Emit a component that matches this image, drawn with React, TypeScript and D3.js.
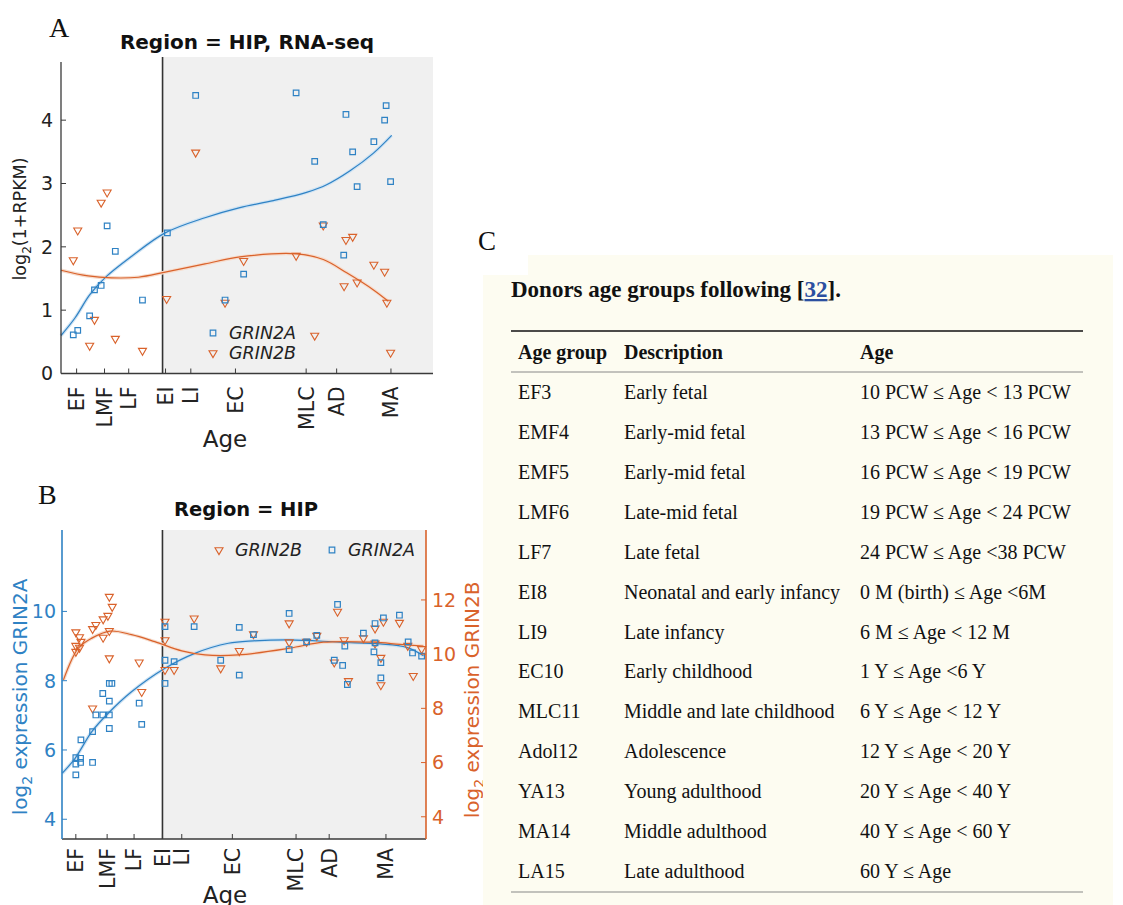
import React from "react";
import * as d3 from "d3";

// ---------- data ----------
const ageLabels = ["EF", "LMF", "LF", "EI", "LI", "EC", "MLC", "AD", "MA"];
const tickPosA = [4.2, 11.7, 18.2, 28.1, 34.9, 46.9, 65.9, 74.1, 88.7];
const tickPosB = [3.8, 12.4, 19.8, 27.6, 32.9, 46.8, 64.3, 73.4, 89.0];
const birthA = 27.3;
const birthB = 27.6;
const yTicksA = [0, 1, 2, 3, 4];
const yTicksBLeft = [4, 6, 8, 10];
const yTicksBRight = [4, 6, 8, 10, 12];

// Panel A: RNA-seq, log2(1+RPKM)  [age position, value]
const rnaGrin2A: [number, number][] = [
  [36.2, 4.39], [12.4, 2.33], [14.6, 1.93], [28.6, 2.22], [9.0, 1.32], [10.8, 1.39],
  [21.9, 1.16], [7.7, 0.91], [3.3, 0.61], [4.5, 0.68], [49.1, 1.57], [44.1, 1.16],
  [63.2, 4.43], [76.6, 4.09], [87.4, 4.23], [87.0, 4.0], [84.1, 3.66], [78.4, 3.5],
  [68.2, 3.35], [79.6, 2.95], [88.6, 3.03], [70.5, 2.35], [76.0, 1.87],
];
const rnaGrin2B: [number, number][] = [
  [36.2, 3.49], [12.4, 2.86], [10.8, 2.7], [4.5, 2.26], [3.3, 1.79], [49.1, 1.78],
  [28.4, 1.18], [44.1, 1.12], [9.0, 0.85], [7.7, 0.44], [14.6, 0.55], [21.9, 0.36],
  [70.5, 2.34], [76.6, 2.11], [78.4, 2.16], [63.2, 1.86], [84.1, 1.72], [87.0, 1.61],
  [76.1, 1.38], [79.6, 1.44], [87.6, 1.12], [68.2, 0.6], [88.6, 0.33],
];
const rnaFit2A: [number, number][] = [
  [0, 0.6], [3.8, 0.88], [7.7, 1.24], [11.8, 1.51], [19.0, 1.85], [28.0, 2.22],
  [38.7, 2.46], [48.1, 2.62], [57.1, 2.73], [66.0, 2.86], [71.4, 2.98], [77.7, 3.2],
  [84.0, 3.48], [88.9, 3.76],
];
const rnaFit2B: [number, number][] = [
  [0, 1.63], [7.3, 1.54], [13.6, 1.51], [20.8, 1.52], [28.0, 1.6], [38.7, 1.73],
  [48.1, 1.84], [63.4, 1.89], [70.5, 1.8], [76.8, 1.59], [84.0, 1.32], [88.0, 1.14],
];

// Panel B: microarray, log2 expression  [age position, value]
const arrGrin2A: [number, number][] = [
  [3.8, 5.28], [3.8, 5.59], [3.8, 5.78], [5.1, 5.76], [5.1, 5.64], [5.2, 6.29],
  [8.4, 5.64], [8.4, 6.53], [9.3, 7.01], [11.2, 7.01], [11.2, 7.63], [13.0, 7.01],
  [13.0, 7.41], [13.0, 7.92], [13.0, 6.62], [13.7, 7.92], [21.2, 7.35], [21.9, 6.74],
  [28.3, 9.56], [28.3, 8.59], [28.3, 7.92], [30.8, 8.55], [36.3, 9.56], [43.6, 8.59],
  [48.7, 9.54], [48.7, 8.16], [52.6, 9.33], [62.4, 9.94], [62.4, 8.9], [67.2, 9.12],
  [70.0, 9.31], [75.7, 10.2], [74.8, 8.59], [77.1, 8.44], [77.7, 9.0], [78.4, 7.89],
  [82.8, 9.37], [86.0, 9.65], [86.0, 9.09], [88.3, 9.81], [85.7, 8.83], [87.6, 8.52],
  [87.6, 8.08], [92.7, 9.89], [95.1, 9.12], [96.3, 8.8], [98.8, 8.71],
];
const arrGrin2B: [number, number][] = [
  [3.8, 10.81], [3.8, 10.31], [3.8, 10.09], [4.8, 10.63], [4.8, 10.24], [5.2, 10.46],
  [8.4, 10.93], [8.4, 8.0], [9.3, 11.08], [11.3, 11.29], [11.3, 10.61], [12.6, 11.42],
  [13.0, 12.12], [13.0, 10.86], [13.0, 9.85], [13.8, 11.75], [21.2, 9.7], [21.9, 8.61],
  [28.3, 11.2], [28.3, 10.52], [28.3, 9.42], [30.8, 9.42], [36.3, 11.32], [43.6, 9.48],
  [48.7, 10.12], [52.6, 10.74], [62.4, 11.14], [62.4, 10.44], [67.2, 10.46], [70.0, 10.68],
  [75.7, 11.57], [74.8, 9.7], [77.5, 10.52], [78.7, 9.01], [82.8, 10.59], [86.0, 10.95],
  [86.0, 10.4], [88.3, 11.2], [87.6, 9.87], [87.6, 8.86], [92.7, 11.16], [95.0, 10.31],
  [96.5, 9.2], [98.8, 10.19],
];
const arrFit2A: [number, number][] = [
  [0.1, 5.33], [3.6, 5.76], [8.2, 6.53], [12.7, 7.06], [19.1, 7.68], [28.3, 8.36],
  [36.5, 8.79], [45.7, 9.08], [52.6, 9.15], [62.6, 9.18], [76.4, 9.11], [87.4, 9.06],
  [94.7, 8.96], [99.3, 8.72],
];
const arrFit2B: [number, number][] = [
  [0.4, 9.05], [4.5, 10.22], [8.2, 10.59], [13.2, 10.85], [19.1, 10.72], [25.5, 10.46],
  [32.9, 10.12], [39.3, 9.97], [48.4, 9.97], [62.6, 10.22], [71.8, 10.44], [85.5, 10.44],
  [92.9, 10.36], [99.3, 10.3],
];

// Panel C: table
const tableTitle = "Donors age groups following [";
const tableRef = "32";
const tableHeaders = ["Age group", "Description", "Age"];
const ageGroups = ["EF3", "EMF4", "EMF5", "LMF6", "LF7", "EI8", "LI9", "EC10", "MLC11", "Adol12", "YA13", "MA14", "LA15"];
const descriptions = [
  "Early fetal", "Early-mid fetal", "Early-mid fetal", "Late-mid fetal", "Late fetal",
  "Neonatal and early infancy", "Late infancy", "Early childhood", "Middle and late childhood",
  "Adolescence", "Young adulthood", "Middle adulthood", "Late adulthood",
];
const ageRanges = [
  "10 PCW ≤ Age < 13 PCW", "13 PCW ≤ Age < 16 PCW", "16 PCW ≤ Age < 19 PCW",
  "19 PCW ≤ Age < 24 PCW", "24 PCW ≤ Age <38 PCW", "0 M (birth) ≤ Age <6M",
  "6 M ≤ Age < 12 M", "1 Y ≤ Age <6 Y", "6 Y ≤ Age < 12 Y", "12 Y ≤ Age < 20 Y",
  "20 Y ≤ Age < 40 Y", "40 Y ≤ Age < 60 Y", "60 Y ≤ Age",
];

// ---------- style ----------
const BLUE = "#2f82c4";
const ORANGE = "#d9622b";
const AXIS = "#3a3a3a";
const SHADE = "#f0f0f0";
const SANS = "DejaVu Sans, sans-serif";
const SERIF = "Liberation Serif, Times New Roman, serif";

const squarePath = d3.symbol(d3.symbolSquare, 31)()!;
const triPath = d3.symbol(d3.symbolTriangle, 28)()!;

function Square({ x, y, color = BLUE }: { x: number; y: number; color?: string }) {
  return (
    <path d={squarePath} transform={`translate(${x},${y})`} fill="none" stroke={color} strokeWidth={1.2} />
  );
}
function Tri({ x, y, color = ORANGE }: { x: number; y: number; color?: string }) {
  return (
    <path d={triPath} transform={`translate(${x},${y}) rotate(180)`} fill="none" stroke={color} strokeWidth={1.1} />
  );
}

function XAxisLabels({ x, y0, ticks, gap, size }: { x: d3.ScaleLinear<number, number>; y0: number; ticks: number[]; gap: number; size: number }) {
  return (
    <g>
      {ticks.map((t, i) => (
        <g key={i}>
          <line x1={x(t)} x2={x(t)} y1={y0} y2={y0 - 5} stroke={AXIS} strokeWidth={1} />
          <text
            transform={`translate(${x(t)},${y0 + gap}) rotate(-90)`}
            textAnchor="end"
            dy="0.36em"
            fontFamily={SANS}
            fontSize={size}
            fill="#222"
          >
            {ageLabels[i]}
          </text>
        </g>
      ))}
    </g>
  );
}

function PanelA() {
  const x = d3.scaleLinear([0, 100], [61, 433]);
  const y = d3.scaleLinear([0, 4.95], [373.5, 60]);
  const line = d3
    .line<[number, number]>()
    .x((d) => x(d[0]))
    .y((d) => y(d[1]))
    .curve(d3.curveCatmullRom);
  const top = 57;
  return (
    <g>
      <text x={49} y={37} fontFamily={SERIF} fontSize={28} fill="#111">A</text>
      <text x={247} y={49} textAnchor="middle" fontFamily={SANS} fontWeight="bold" fontSize={20} fill="#111">
        Region = HIP, RNA-seq
      </text>
      <rect x={x(birthA)} y={top} width={x(100) - x(birthA)} height={y(0) - top} fill={SHADE} />
      <line x1={x(birthA)} x2={x(birthA)} y1={top} y2={y(0)} stroke="#333" strokeWidth={1.6} />
      {/* fitted curves */}
      <path d={line(rnaFit2A)!} fill="none" stroke="#cfe3f3" strokeWidth={3.5} />
      <path d={line(rnaFit2B)!} fill="none" stroke="#f6dccd" strokeWidth={3.5} />
      <path d={line(rnaFit2A)!} fill="none" stroke={BLUE} strokeWidth={1.2} />
      <path d={line(rnaFit2B)!} fill="none" stroke={ORANGE} strokeWidth={1.2} />
      {rnaGrin2B.map((d, i) => <Tri key={"b" + i} x={x(d[0])} y={y(d[1])} />)}
      {rnaGrin2A.map((d, i) => <Square key={"a" + i} x={x(d[0])} y={y(d[1])} />)}
      {/* axes */}
      <line x1={x(0)} x2={x(0)} y1={62} y2={y(0)} stroke={AXIS} strokeWidth={1.3} />
      <line x1={x(0)} x2={x(100)} y1={y(0)} y2={y(0)} stroke={AXIS} strokeWidth={1.3} />
      {yTicksA.map((t) => (
        <g key={t}>
          <line x1={x(0)} x2={x(0) + 5} y1={y(t)} y2={y(t)} stroke={AXIS} />
          <text x={x(0) - 8} y={y(t)} dy="0.36em" textAnchor="end" fontFamily={SANS} fontSize={19} fill="#222">{t}</text>
        </g>
      ))}
      <XAxisLabels x={x} y0={y(0)} ticks={tickPosA} gap={13} size={20.5} />
      <text x={225} y={447} textAnchor="middle" fontFamily={SANS} fontSize={23} fill="#222">Age</text>
      <text transform="translate(26,219) rotate(-90)" textAnchor="middle" fontFamily={SANS} fontSize={17.5} fill="#222">
        log<tspan dy={5} fontSize={12}>2</tspan><tspan dy={-5}>(1+RPKM)</tspan>
      </text>
      {/* legend */}
      <Square x={213} y={333} />
      <text x={229} y={333} dy="0.36em" fontFamily={SANS} fontStyle="italic" fontSize={17.5} fill="#222">GRIN2A</text>
      <Tri x={213} y={353} />
      <text x={229} y={353} dy="0.36em" fontFamily={SANS} fontStyle="italic" fontSize={17.5} fill="#222">GRIN2B</text>
    </g>
  );
}

function PanelB() {
  const x = d3.scaleLinear([0, 100], [62, 426]);
  const yL = d3.scaleLinear([3.43, 12.35], [839, 530]);
  const yR = d3.scaleLinear([3.18, 14.58], [839, 530]);
  const lineL = d3.line<[number, number]>().x((d) => x(d[0])).y((d) => yL(d[1])).curve(d3.curveCatmullRom);
  const lineR = d3.line<[number, number]>().x((d) => x(d[0])).y((d) => yR(d[1])).curve(d3.curveCatmullRom);
  const top = 530;
  const bottom = 839;
  return (
    <g>
      <text x={38} y={504} fontFamily={SERIF} fontSize={28} fill="#111">B</text>
      <text x={246} y={516} textAnchor="middle" fontFamily={SANS} fontWeight="bold" fontSize={19.5} fill="#111">
        Region = HIP
      </text>
      <rect x={x(birthB)} y={top} width={x(100) - x(birthB)} height={bottom - top} fill={SHADE} />
      <line x1={x(birthB)} x2={x(birthB)} y1={top} y2={bottom} stroke="#333" strokeWidth={1.6} />
      <path d={lineL(arrFit2A)!} fill="none" stroke="#cfe3f3" strokeWidth={3.5} />
      <path d={lineR(arrFit2B)!} fill="none" stroke="#f6dccd" strokeWidth={3.5} />
      <path d={lineL(arrFit2A)!} fill="none" stroke={BLUE} strokeWidth={1.2} />
      <path d={lineR(arrFit2B)!} fill="none" stroke={ORANGE} strokeWidth={1.2} />
      {arrGrin2B.map((d, i) => <Tri key={"b" + i} x={x(d[0])} y={yR(d[1])} />)}
      {arrGrin2A.map((d, i) => <Square key={"a" + i} x={x(d[0])} y={yL(d[1])} />)}
      {/* axes */}
      <line x1={x(0)} x2={x(100)} y1={bottom} y2={bottom} stroke={AXIS} strokeWidth={1.3} />
      <line x1={x(0)} x2={x(0)} y1={top} y2={bottom} stroke={BLUE} strokeWidth={1.6} />
      <line x1={x(100)} x2={x(100)} y1={top} y2={bottom} stroke={ORANGE} strokeWidth={1.6} />
      {yTicksBLeft.map((t) => (
        <g key={"l" + t}>
          <line x1={x(0)} x2={x(0) + 5} y1={yL(t)} y2={yL(t)} stroke={BLUE} />
          <text x={x(0) - 6} y={yL(t)} dy="0.36em" textAnchor="end" fontFamily={SANS} fontSize={19} fill={BLUE}>{t}</text>
        </g>
      ))}
      {yTicksBRight.map((t) => (
        <g key={"r" + t}>
          <line x1={x(100)} x2={x(100) - 5} y1={yR(t)} y2={yR(t)} stroke={ORANGE} />
          <text x={x(100) + 6} y={yR(t)} dy="0.36em" textAnchor="start" fontFamily={SANS} fontSize={19} fill={ORANGE}>{t}</text>
        </g>
      ))}
      <XAxisLabels x={x} y0={bottom} ticks={tickPosB} gap={9} size={20.5} />
      <text x={225} y={903} textAnchor="middle" fontFamily={SANS} fontSize={23} fill="#222">Age</text>
      <text transform="translate(27,697) rotate(-90)" textAnchor="middle" fontFamily={SANS} fontSize={20} fill={BLUE}>
        log<tspan dy={5} fontSize={14}>2</tspan><tspan dy={-5}> expression  GRIN2A</tspan>
      </text>
      <text transform="translate(479,700) rotate(-90)" textAnchor="middle" fontFamily={SANS} fontSize={20} fill={ORANGE}>
        log<tspan dy={5} fontSize={14}>2</tspan><tspan dy={-5}> expression  GRIN2B</tspan>
      </text>
      {/* legend */}
      <Tri x={219} y={550} />
      <text x={235} y={550} dy="0.36em" fontFamily={SANS} fontStyle="italic" fontSize={17.5} fill="#222">GRIN2B</text>
      <Square x={332} y={550} />
      <text x={348} y={550} dy="0.36em" fontFamily={SANS} fontStyle="italic" fontSize={17.5} fill="#222">GRIN2A</text>
    </g>
  );
}

function PanelC() {
  const rowY = d3.scaleLinear([0, 12], [392, 871]);
  const colX = [518, 624, 860];
  return (
    <g>
      <rect x={483} y={255} width={630} height={650} fill="#fdfcf1" />
      <rect x={483} y={255} width={45} height={20} fill="#ffffff" />
      <text x={478} y={250} fontFamily={SERIF} fontSize={27} fill="#111">C</text>
      <text x={511} y={297} fontFamily={SERIF} fontWeight="bold" fontSize={23} fill="#111">
        {tableTitle}
        <tspan fill="#2b4fa0" textDecoration="underline">{tableRef}</tspan>
        ].
      </text>
      <line x1={511} x2={1083} y1={331} y2={331} stroke="#111" strokeWidth={1.6} />
      {tableHeaders.map((h, i) => (
        <text key={h} x={colX[i]} y={352} dy="0.35em" fontFamily={SERIF} fontWeight="bold" fontSize={20} fill="#111">{h}</text>
      ))}
      <line x1={511} x2={1083} y1={372} y2={372} stroke="#888" strokeWidth={1} />
      {ageGroups.map((g, i) => (
        <g key={g} fontFamily={SERIF} fontSize={20} fill="#111">
          <text x={colX[0]} y={rowY(i)} dy="0.35em">{g}</text>
          <text x={colX[1]} y={rowY(i)} dy="0.35em">{descriptions[i]}</text>
          <text x={colX[2]} y={rowY(i)} dy="0.35em">{ageRanges[i]}</text>
        </g>
      ))}
      <line x1={511} x2={1083} y1={892} y2={892} stroke="#888" strokeWidth={1.2} />
    </g>
  );
}

export default function App() {
  return (
    <div style={{ position: "absolute", left: 0, top: 0 }}>
      <svg width={1123} height={905} viewBox="0 0 1123 905" style={{ display: "block", background: "#fff" }}>
        <PanelA />
        <PanelB />
        <PanelC />
      </svg>
    </div>
  );
}
